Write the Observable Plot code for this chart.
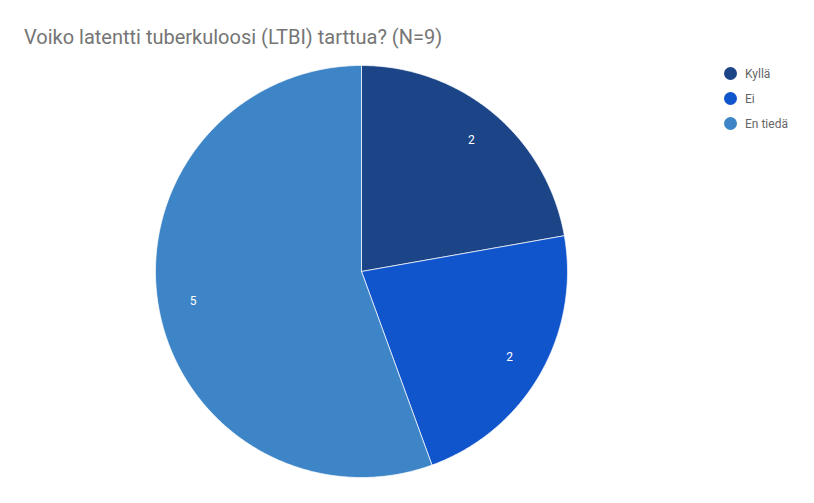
<!DOCTYPE html>
<html><head><meta charset="utf-8">
<script src="https://cdn.jsdelivr.net/npm/d3@7"></script>
<script src="https://cdn.jsdelivr.net/npm/@observablehq/plot@0.6"></script>
<style>
body{margin:0;background:#fff;font-family:Roboto,"Open Sans",sans-serif;}
#wrap{position:relative;width:814px;height:503px;}
#title{position:absolute;left:24px;top:25px;font-size:20px;color:#757575;white-space:nowrap;}
#chart{position:absolute;left:0;top:55px;}
#legend{position:absolute;left:724px;top:61px;font-size:12px;color:#666;}
#legend div{display:flex;align-items:center;height:25px;}
#legend span.dot{display:inline-block;width:13px;height:13px;border-radius:50%;margin-right:8px;}
</style></head>
<body>
<div id="wrap">
<div id="title">Voiko latentti tuberkuloosi (LTBI) tarttua? (N=9)</div>
<div id="chart"></div>
<div id="legend"></div>
</div>
<script>
const categories = ["Kyllä", "Ei", "En tiedä"];
const values = [2, 2, 5];
const colors = ["#1c4587", "#1155cc", "#3d85c6"];

const arcs = d3.pie().sort(null).value(d => d)(values);
const poly = [];
arcs.forEach((a, i) => {
  poly.push({k: categories[i], x: 0, y: 0});
  const n = Math.max(2, Math.ceil((a.endAngle - a.startAngle) / 0.01));
  for (let j = 0; j <= n; j++) {
    const t = a.startAngle + (a.endAngle - a.startAngle) * j / n;
    poly.push({k: categories[i], x: Math.sin(t), y: Math.cos(t)});
  }
  poly.push({k: categories[i], x: 0, y: 0});
});
const labels = arcs.map((a, i) => {
  const m = (a.startAngle + a.endAngle) / 2;
  return {k: categories[i], v: values[i], x: 0.83 * Math.sin(m), y: 0.83 * Math.cos(m)};
});

const plot = Plot.plot({
  width: 814, height: 448,
  marginLeft: 155, marginRight: 247, marginTop: 10, marginBottom: 26,
  x: {domain: [-1, 1], axis: null},
  y: {domain: [-1, 1], axis: null},
  color: {domain: categories, range: colors},
  style: {fontFamily: "Roboto, sans-serif", background: "#fff"},
  marks: [
    Plot.line(poly, {x: "x", y: "y", z: "k", fill: "k", stroke: "#fff", strokeWidth: 0.7, curve: "linear-closed"}),
    Plot.text(labels, {x: "x", y: "y", text: "v", fill: "#fff", fontSize: 12})
  ]
});
document.getElementById("chart").appendChild(plot);

const leg = document.getElementById("legend");
categories.forEach((c, i) => {
  const d = document.createElement("div");
  d.innerHTML = `<span class="dot" style="background:${colors[i]}"></span>${c}`;
  leg.appendChild(d);
});
</script>
</body></html>
